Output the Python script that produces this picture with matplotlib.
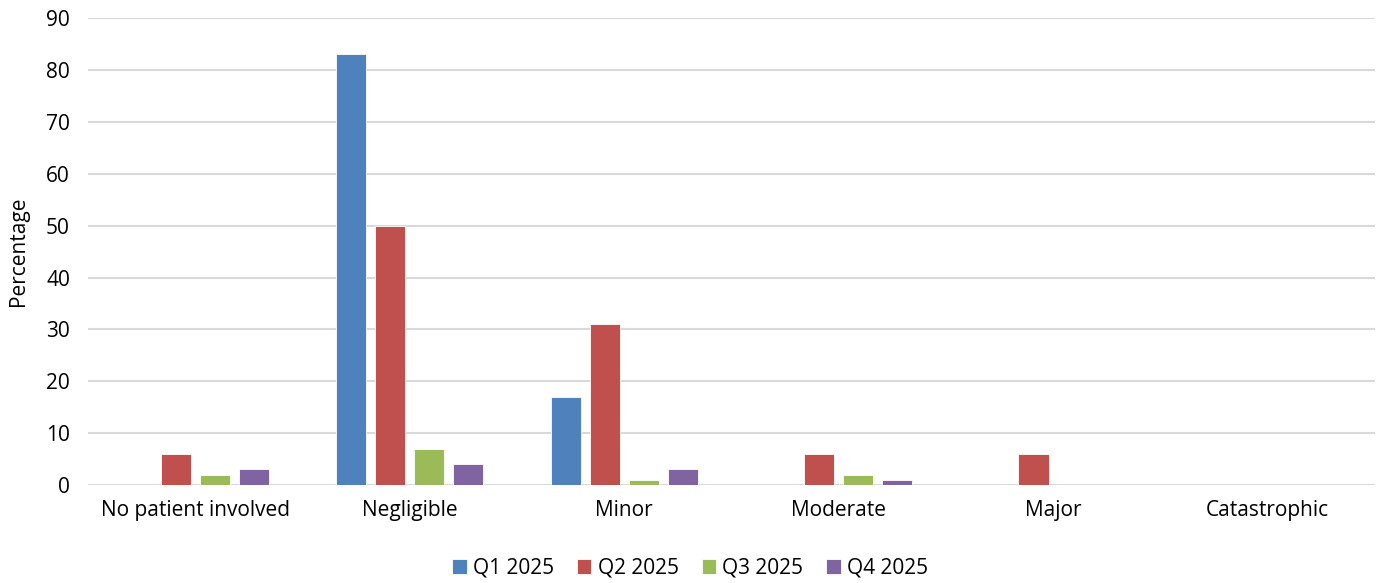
import matplotlib
matplotlib.use("Agg")
import matplotlib.pyplot as plt
import numpy as np

categories = ["No patient involved", "Negligible", "Minor", "Moderate", "Major", "Catastrophic"]
series_names = ["Q1 2025", "Q2 2025", "Q3 2025", "Q4 2025"]
q1 = [0, 83, 17, 0, 0, 0]
q2 = [6, 50, 31, 6, 6, 0]
q3 = [2, 7, 1, 2, 0, 0]
q4 = [3, 4, 3, 1, 0, 0]
colors = ["#4F81BD", "#C0504D", "#9BBB59", "#8064A2"]

plt.rcParams["font.family"] = ["Open Sans", "DejaVu Sans"]

fig = plt.figure(figsize=(13.83, 5.83), dpi=100)
ax = fig.add_axes([0.0636, 0.168, 0.9304, 0.801])

x = np.arange(len(categories))
width = 0.14
step = 0.182
for i, (vals, name) in enumerate(zip([q1, q2, q3, q4], series_names)):
    ax.bar(x + (i - 1.5) * step, vals, width, color=colors[i], label=name,
           edgecolor="white", linewidth=0.6, zorder=3)

ax.set_xlim(-0.5, len(categories) - 0.5)
ax.set_ylim(0, 90)
ax.set_yticks(range(0, 91, 10))
ax.set_xticks(x)
ax.set_xticklabels(categories)
ax.tick_params(axis="both", length=0, labelsize=15, colors="#000000")
ax.tick_params(axis="x", pad=11)
ax.tick_params(axis="y", pad=13)
ax.grid(axis="y", color="#d9d9d9", linewidth=1.5, zorder=0)
for s in ax.spines.values():
    s.set_visible(False)
ax.set_ylabel("Percentage", fontsize=15, labelpad=12)

ax.legend(loc="upper center", bbox_to_anchor=(0.468, -0.115), ncol=4, frameon=False,
          fontsize=15, handlelength=0.7, handleheight=0.7, handletextpad=0.3,
          columnspacing=1.1)

fig.savefig("out.png", dpi=100)
